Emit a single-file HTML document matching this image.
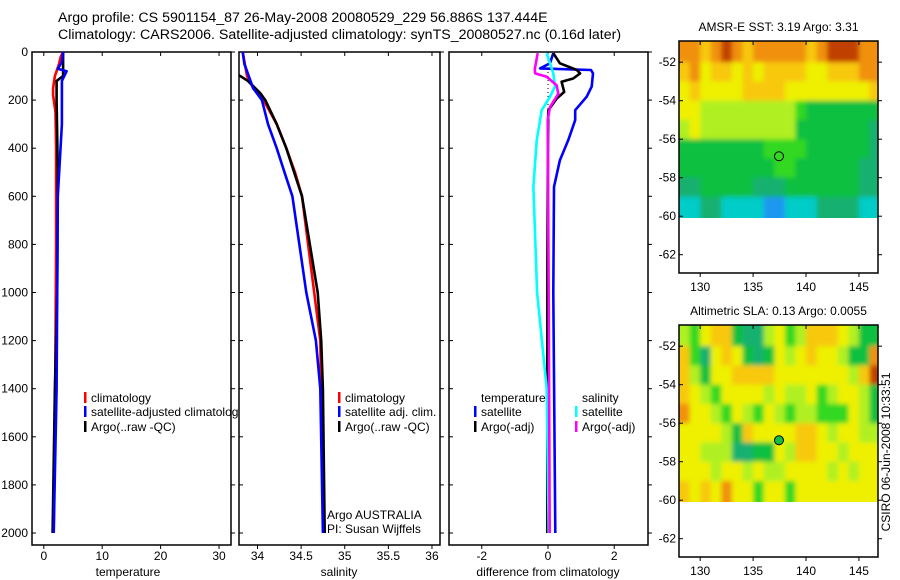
<!DOCTYPE html>
<html><head><meta charset="utf-8"><style>
html,body{margin:0;padding:0;background:#fff;}
svg{display:block;font-family:"Liberation Sans",sans-serif;}
</style></head><body>
<svg id="chart" width="900" height="580" viewBox="0 0 900 580" xmlns="http://www.w3.org/2000/svg">
<defs>
<clipPath id="c1"><rect x="32" y="52" width="199" height="493"/></clipPath>
<clipPath id="c2"><rect x="239" y="52" width="201" height="493"/></clipPath>
<clipPath id="c3"><rect x="449" y="52" width="199" height="493"/></clipPath>
<clipPath id="cleg1"><rect x="0" y="380" width="239" height="60"/></clipPath>
<clipPath id="cm1"><rect x="679" y="41" width="199" height="177"/></clipPath>
<clipPath id="cm2"><rect x="679" y="325" width="199" height="177"/></clipPath>
<filter id="blur" x="-10%" y="-10%" width="120%" height="120%"><feGaussianBlur stdDeviation="2.5"/></filter>
</defs>
<text x="58" y="22" font-size="14.2">Argo profile: CS 5901154_87 26-May-2008 20080529_229 56.886S 137.444E</text>
<text x="58" y="39" font-size="14.2">Climatology: CARS2006. Satellite-adjusted climatology: synTS_20080527.nc (0.16d later)</text>
<g id="g"></g>
</svg>
<script>
// ---- profile data ----
const tClimDepth = [0,20,50,80,100,150,180,250,400,800,1200,1600,2000];
const tClimVal   = [3.3,2.9,2.6,2.2,1.9,1.6,1.6,2.0,2.1,2.1,2.0,1.9,1.7];
const tSatDepth  = [0,40,70,80,120,300,600,1000,1400,2000];
const tSatVal    = [3.3,3.1,2.4,3.9,3.1,3.1,2.4,2.3,2.2,1.7];
const tArgoDepth = [0,100,120,200,500,1000,1400,2000];
const tArgoVal   = [3.3,3.3,2.2,2.2,2.4,2.3,1.9,1.5];

const sClimDepth = [0,100,150,200,300,400,500,600,1000,1200,1400,2000];
const sClimVal   = [33.83,33.88,33.95,34.07,34.22,34.33,34.43,34.51,34.65,34.72,34.73,34.76];
const sSatDepth  = [0,50,150,200,300,400,500,600,1000,1200,1400,2000];
const sSatVal    = [33.83,33.85,33.95,34.05,34.12,34.22,34.31,34.40,34.56,34.67,34.72,34.75];
const sArgoDepth = [0,95,120,170,200,300,400,600,1000,1200,1400,2000];
const sArgoVal   = [33.6,33.78,33.89,34.03,34.09,34.22,34.33,34.51,34.69,34.73,34.75,34.77];

const dTSatDepth = [5,47,68,75,89,144,186,242,283,367,450,561,1000,2000];
const dTSatVal   = [0.16,0.06,-0.24,1.3,1.36,1.32,1.17,0.82,0.82,0.61,0.36,0.18,0.16,0.22];
const dTArgoDepth= [5,47,75,89,110,124,166,194,242,367,1000,2000];
const dTArgoVal  = [0.16,0.36,0.87,0.97,0.76,0.41,0.49,0.26,0.01,0.0,-0.02,-0.02];
const dSSatDepth = [5,89,144,186,242,367,561,1000,1400,2000];
const dSSatVal   = [-0.04,0.16,0.21,0.06,-0.19,-0.34,-0.44,-0.33,-0.04,0.02];
const dSArgoDepth= [5,71,89,103,138,174,229,283,1000,2000];
const dSArgoVal  = [-0.31,-0.4,-0.39,-0.04,0.26,0.31,0.06,-0.01,0.02,0.05];

const depthTicks = [0,200,400,600,800,1000,1200,1400,1600,1800,2000];
const tempTicks = [0,10,20,30];
const salTicks = [34,34.5,35,35.5,36];
const salTickLabels = ["34","34.5","35","35.5","36"];
const diffTicks = [-2,0,2];

// ---- map data (colour index 0-9), rows from 51S to 60S, cols 128E..146E ----
const sstRows = [
 [8,8,7,8,9,8,7,8,8,8,8,8,7,8,9,9,9,8,8],
 [7,8,6,7,7,6,7,6,7,7,7,7,6,6,7,7,7,8,8],
 [6,7,6,6,6,6,7,7,7,7,6,6,6,6,6,6,6,6,7],
 [6,6,5,5,5,5,5,5,5,5,5,4,3,3,3,3,3,3,3],
 [5,6,5,5,5,5,5,5,5,5,5,3,3,3,3,3,3,3,2],
 [3,3,3,3,3,3,3,3,4,4,4,4,3,3,3,3,3,3,2],
 [3,3,3,3,3,3,3,3,3,4,4,3,3,3,3,3,3,2,2],
 [2,2,3,3,3,3,3,2,2,2,3,3,3,3,3,3,3,2,2],
 [1,1,2,2,1,1,1,1,0,0,1,1,1,2,2,2,2,1,1]
];
const slaRows = [
 [5,4,6,7,7,3,2,2,5,6,4,5,7,7,7,6,5,3,3],
 [7,4,2,6,7,6,3,2,3,6,5,6,7,6,6,5,3,3,8],
 [7,5,3,6,6,7,7,7,7,6,6,6,6,6,6,6,5,7,9],
 [7,6,5,4,6,6,6,6,5,6,5,5,6,4,5,6,6,5,3],
 [8,6,6,5,4,6,5,4,6,5,4,5,5,4,4,4,6,5,3],
 [6,6,6,6,5,3,7,6,6,6,6,7,7,6,5,6,6,5,5],
 [6,6,5,5,5,2,2,3,3,6,5,7,7,6,6,5,6,6,6],
 [6,6,6,5,6,6,5,6,5,5,6,6,6,6,5,6,5,6,6],
 [7,6,7,6,8,6,6,4,6,6,4,6,6,6,6,6,6,6,6]
];
const latTicks = [-52,-54,-56,-58,-60,-62];
const lonTicks = [130,135,140,145];
const argoLon = 137.444, argoLat = -56.886;
const palette = ["#1c98f0","#00ccc8","#12b070","#10c040","#30d820","#b0f020","#eef000","#f8c810","#f09010","#c04000"];

const NS="http://www.w3.org/2000/svg";
const G=document.getElementById('g');
function el(tag,attrs,parent,text){const e=document.createElementNS(NS,tag);for(const k in attrs)e.setAttribute(k,attrs[k]);if(text!==undefined)e.textContent=text;(parent||G).appendChild(e);return e;}
const yD = d => 52 + d*0.2405;
const panels = [
 {x0:32,x1:231,lo:-2.02,hi:32.05,clip:'c1'},
 {x0:239,x1:440,lo:33.788,hi:36.092,clip:'c2'},
 {x0:449,x1:648,lo:-2.99,hi:3.02,clip:'c3'}
];
const sx = (p,v)=>p.x0+(v-p.lo)/(p.hi-p.lo)*(p.x1-p.x0);

const names=['temperature-panel','salinity-panel','difference-panel'];
panels.forEach((p,i)=>{
  const r=el('rect',{x:p.x0,y:52,width:p.x1-p.x0,height:493,fill:'none',stroke:'#000','stroke-width':1.5});
  
  
  depthTicks.forEach(d=>{
    el('line',{x1:p.x0,x2:p.x0+4,y1:yD(d),y2:yD(d),stroke:'#000'});
    el('line',{x1:p.x1,x2:p.x1+4,y1:yD(d),y2:yD(d),stroke:'#000'});
  });
});
depthTicks.forEach(d=>{
  const t=el('text',{x:28,y:yD(d)+4,'font-size':12,'text-anchor':'end'},G,String(d));
  
  
});
function xTicks(p,vals,labels,name){
  vals.forEach((v,i)=>{
    const x=sx(p,v);
    el('line',{x1:x,x2:x,y1:52,y2:56,stroke:'#000'});
    el('line',{x1:x,x2:x,y1:545,y2:549,stroke:'#000'});
    const t=el('text',{x:x,y:560,'font-size':12,'text-anchor':'middle'},G,labels[i]);
    
    
  });
}
xTicks(panels[0],tempTicks,tempTicks.map(String),'temperature-tick-label');
xTicks(panels[1],salTicks,salTickLabels,'salinity-tick-label');
xTicks(panels[2],diffTicks,diffTicks.map(String),'difference-tick-label');
[['temperature',128,'x-axis-title-temperature'],['salinity',339,'x-axis-title-salinity'],['difference from climatology',548,'x-axis-title-difference']].forEach(a=>{
  const t=el('text',{x:a[1],y:576,'font-size':12,'text-anchor':'middle'},G,a[0]);
  
  
});

function line(p,depths,vals,color,name){
  const pts=depths.map((d,i)=>sx(p,vals[i]).toFixed(1)+','+yD(d).toFixed(1)).join(' ');
  const l=el('polyline',{points:pts,fill:'none',stroke:color,'stroke-width':2.6,'clip-path':'url(#'+p.clip+')','stroke-linejoin':'round'});
  
  
}
el('line',{x1:sx(panels[2],0),x2:sx(panels[2],0),y1:52,y2:yD(300),stroke:'#000','stroke-width':1,'stroke-dasharray':'1,3'});
line(panels[0],tClimDepth,tClimVal,'#ff0000','temp-climatology-line');
line(panels[0],tArgoDepth,tArgoVal,'#000000','temp-argo-line');
line(panels[0],tSatDepth,tSatVal,'#0000ff','temp-satellite-line');
line(panels[1],sClimDepth,sClimVal,'#ff0000','sal-climatology-line');
line(panels[1],sArgoDepth,sArgoVal,'#000000','sal-argo-line');
line(panels[1],sSatDepth,sSatVal,'#0000ff','sal-satellite-line');
line(panels[2],dTSatDepth,dTSatVal,'#0000ff','diff-temp-satellite-line');
line(panels[2],dTArgoDepth,dTArgoVal,'#000000','diff-temp-argo-line');
line(panels[2],dSSatDepth,dSSatVal,'#00ffff','diff-sal-satellite-line');
line(panels[2],dSArgoDepth,dSArgoVal,'#ff00ff','diff-sal-argo-line');

function legend(x,y,color,label,clip,name){
  const g=el('g',clip?{'clip-path':'url(#'+clip+')'}:{});
  
  
  if(color) el('rect',{x:x,y:y-10,width:2.5,height:11,fill:color},g);
  el('text',{x:x+7,y:y,'font-size':12},g,label);
}
legend(84,402,'#ff0000','climatology','cleg1','legend-climatology');
legend(84,416,'#0000ff','satellite-adjusted climatology','cleg1','legend-satellite-adjusted');
legend(84,431,'#000000','Argo(..raw -QC)','cleg1','legend-argo-raw');
legend(338,402,'#ff0000','climatology',null,'legend-sal-climatology');
legend(338,416,'#0000ff','satellite adj. clim.',null,'legend-sal-satellite');
legend(338,431,'#000000','Argo(..raw -QC)',null,'legend-sal-argo');
legend(474,402,null,'temperature',null,'legend-temperature-header');
legend(474,416,'#0000ff','satellite',null,'legend-temp-satellite');
legend(474,431,'#000000','Argo(-adj)',null,'legend-temp-argo');
legend(575,402,null,'salinity',null,'legend-salinity-header');
legend(575,416,'#00ffff','satellite',null,'legend-sal-sat-diff');
legend(575,431,'#ff00ff','Argo(-adj)',null,'legend-sal-argo-diff');
let t=el('text',{x:327,y:519,'font-size':12},G,'Argo AUSTRALIA');

t=el('text',{x:327,y:533,'font-size':12},G,'PI: Susan Wijffels');


// ---- maps ----
function drawMap(top,rows,clip,title,name,filledCircle){
  const x0=679,x1=878,bot=top+232;
  const mx=lon=>x0+(lon-128.0)/(146.8-128.0)*(x1-x0);
  const my=lat=>top+(-50.9-lat)/(62.95-50.9)*(bot-top);
  const outer=el('g',{'clip-path':'url(#'+clip+')'});
  
  
  const g=el('g',{filter:'url(#blur)'},outer);
  rows.forEach((row,i)=>{
    const latT = i===0 ? -49.5 : -51-i;
    const latB = i===rows.length-1 ? -61 : -52-i;
    row.forEach((v,j)=>{
      const lonL = j===0 ? 126.5 : 128+j;
      const lonR = j===row.length-1 ? 148.5 : 129+j;
      const c=el('rect',{x:mx(lonL).toFixed(1),y:my(latT).toFixed(1),width:(mx(lonR)-mx(lonL)+0.6).toFixed(1),height:(my(latB)-my(latT)+0.6).toFixed(1),fill:palette[v]},g);
      
      
    });
  });
  const f=el('rect',{x:x0,y:top,width:x1-x0,height:bot-top,fill:'none',stroke:'#000','stroke-width':1.5});
  
  
  latTicks.forEach(l=>{
    el('line',{x1:x0,x2:x0+4,y1:my(l),y2:my(l),stroke:'#000'});
    el('line',{x1:x1,x2:x1+4,y1:my(l),y2:my(l),stroke:'#000'});
    const tt=el('text',{x:676,y:my(l)+4,'font-size':12,'text-anchor':'end'},G,String(l));
    
    
  });
  lonTicks.forEach(l=>{
    el('line',{x1:mx(l),x2:mx(l),y1:top,y2:top+4,stroke:'#000'});
    el('line',{x1:mx(l),x2:mx(l),y1:bot,y2:bot+4,stroke:'#000'});
    const tt=el('text',{x:mx(l),y:bot+18,'font-size':12,'text-anchor':'middle'},G,String(l));
    
    
  });
  const tt=el('text',{x:(x0+x1)/2,y:top-10,'font-size':12,'text-anchor':'middle'},G,title);
  
  
  const c=el('circle',{cx:mx(argoLon),cy:my(argoLat),r:4.5,fill:filledCircle?'#10c040':'none',stroke:'#000','stroke-width':1});
  
  
}
drawMap(41,sstRows,'cm1','AMSR-E SST: 3.19 Argo: 3.31','sst-map',false);
drawMap(325,slaRows,'cm2','Altimetric SLA: 0.13 Argo: 0.0055','sla-map',true);
t=el('text',{x:0,y:0,'font-size':12,'text-anchor':'middle',transform:'translate(890,452) rotate(-90)'},G,'CSIRO 06-Jun-2008 10:33:51');


</script>
</body></html>
